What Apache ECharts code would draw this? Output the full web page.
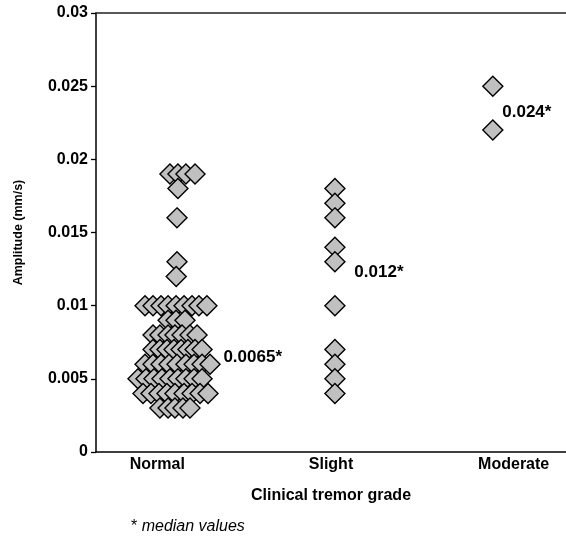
<!DOCTYPE html>
<html>
<head>
<meta charset="utf-8">
<script src="https://cdn.jsdelivr.net/npm/echarts@6/dist/echarts.min.js"></script>
<style>
html,body{margin:0;padding:0;background:#fff;}
#chart{width:566px;height:538px;}
</style>
</head>
<body>
<div id="chart"></div>
<script>
// Categories and x positions (in category units, 0..3; each category spans 1 unit)
var categories = ['Normal', 'Slight', 'Moderate'];

// Normal group: x positions (jitter) and amplitude values
var normalX = [
  0.472, 0.523, 0.574, 0.632,
  0.523,
  0.517,
  0.517,
  0.512,
  0.313, 0.364, 0.415, 0.460, 0.511, 0.562, 0.613, 0.657, 0.708,
  0.460, 0.511, 0.568,
  0.364, 0.408, 0.460, 0.504, 0.549, 0.600, 0.645,
  0.364, 0.408, 0.453, 0.498, 0.543, 0.587, 0.632, 0.677,
  0.313, 0.364, 0.415, 0.466, 0.517, 0.574, 0.626, 0.677, 0.728,
  0.268, 0.319, 0.370, 0.421, 0.472, 0.523, 0.574, 0.626, 0.677,
  0.300, 0.351, 0.402, 0.453, 0.504, 0.562, 0.613, 0.664, 0.715,
  0.408, 0.460, 0.504, 0.555, 0.600
];
var normalY = [
  0.019, 0.019, 0.019, 0.019,
  0.018,
  0.016,
  0.013,
  0.012,
  0.010, 0.010, 0.010, 0.010, 0.010, 0.010, 0.010, 0.010, 0.010,
  0.009, 0.009, 0.009,
  0.008, 0.008, 0.008, 0.008, 0.008, 0.008, 0.008,
  0.007, 0.007, 0.007, 0.007, 0.007, 0.007, 0.007, 0.007,
  0.006, 0.006, 0.006, 0.006, 0.006, 0.006, 0.006, 0.006, 0.006,
  0.005, 0.005, 0.005, 0.005, 0.005, 0.005, 0.005, 0.005, 0.005,
  0.004, 0.004, 0.004, 0.004, 0.004, 0.004, 0.004, 0.004, 0.004,
  0.003, 0.003, 0.003, 0.003, 0.003
];

// Slight group
var slightX = [1.525, 1.525, 1.525, 1.525, 1.525, 1.525, 1.525, 1.525, 1.525, 1.525];
var slightY = [0.018, 0.017, 0.016, 0.014, 0.013, 0.010, 0.007, 0.006, 0.005, 0.004];

// Moderate group
var moderateX = [2.533, 2.533];
var moderateY = [0.025, 0.022];

// Median annotations
var medianText = ['0.0065*', '0.012*', '0.024*'];
var medianX = [0.81, 1.646, 2.59];
var medianY = [0.0065, 0.0123, 0.0232];

// Y axis ticks
var yMin = 0, yMax = 0.03, yStep = 0.005;

function pairs(xs, ys) {
  var out = [];
  for (var i = 0; i < xs.length; i++) out.push([xs[i], ys[i]]);
  return out;
}

var diamondStyle = {
  color: '#c0c0c0',
  borderColor: '#000',
  borderWidth: 1.4,
  opacity: 1
};

var chart = echarts.init(document.getElementById('chart'), null, {renderer: 'canvas'});

var font = 'Liberation Sans, Arial, sans-serif';

var option = {
  animation: false,
  backgroundColor: '#fff',
  textStyle: {fontFamily: font},
  grid: {left: 96, right: 0, top: 13, bottom: 86, containLabel: false},
  title: {
    left: 126,
    top: 514,
    text: '{s|*}{t| median values}',
    textStyle: {
      fontWeight: 'normal',
      rich: {
        s: {fontFamily: font, fontSize: 16, fontWeight: 'normal', color: '#000'},
        t: {fontFamily: font, fontSize: 16, fontWeight: 'normal', fontStyle: 'italic', color: '#000'}
      }
    }
  },
  xAxis: [
    {
      type: 'value', min: 0, max: 3, position: 'bottom',
      axisLine: {show: true, onZero: false, lineStyle: {color: '#000', width: 1.5}},
      axisTick: {show: false}, axisLabel: {show: false}, splitLine: {show: false},
      name: 'Clinical tremor grade', nameLocation: 'middle', nameGap: 36,
      nameTextStyle: {fontFamily: font, fontSize: 16, fontWeight: 'bold', color: '#000'}
    },
    {
      type: 'category', data: categories, position: 'bottom', boundaryGap: true,
      axisLine: {show: false}, axisTick: {show: false}, splitLine: {show: false},
      axisLabel: {
        margin: 5,
        formatter: function (v) {
          if (v === 'Normal') return '{n|' + v + '}';
          if (v === 'Moderate') return '{m|' + v + '}';
          return '{s|' + v + '}';
        },
        rich: {
          n: {fontFamily: font, fontSize: 16, fontWeight: 'bold', color: '#000', padding: [0, 34, 0, 0]},
          s: {fontFamily: font, fontSize: 16, fontWeight: 'bold', color: '#000'},
          m: {fontFamily: font, fontSize: 16, fontWeight: 'bold', color: '#000', padding: [0, 0, 0, 52]}
        }
      }
    },
    {
      type: 'value', min: 0, max: 3, position: 'top',
      axisLine: {show: true, onZero: false, lineStyle: {color: '#222', width: 1.5}},
      axisTick: {show: false}, axisLabel: {show: false}, splitLine: {show: false}
    }
  ],
  yAxis: {
    type: 'value', min: yMin, max: yMax, interval: yStep,
    axisLine: {show: true, onZero: false, lineStyle: {color: '#000', width: 1.5}},
    axisTick: {show: true, length: 5, lineStyle: {color: '#000', width: 1.3}},
    splitLine: {show: false},
    axisLabel: {
      margin: 8, fontFamily: font, fontSize: 16, fontWeight: 'bold', color: '#000',
      verticalAlign: 'middle', padding: [0, 0, 4, 0],
      formatter: function (v) { return String(+v.toFixed(4)); }
    },
    name: 'Amplitude (mm/s)', nameLocation: 'middle', nameGap: 71, nameRotate: 90,
    nameTextStyle: {fontFamily: font, fontSize: 12.5, fontWeight: 'bold', color: '#000'}
  },
  series: [
    {
      name: 'Normal', type: 'scatter', xAxisIndex: 0, symbol: 'diamond', symbolSize: 20,
      itemStyle: diamondStyle, data: pairs(normalX, normalY), z: 3
    },
    {
      name: 'Slight', type: 'scatter', xAxisIndex: 0, symbol: 'diamond', symbolSize: 20,
      itemStyle: diamondStyle, data: pairs(slightX, slightY), z: 3
    },
    {
      name: 'Moderate', type: 'scatter', xAxisIndex: 0, symbol: 'diamond', symbolSize: 20,
      itemStyle: diamondStyle, data: pairs(moderateX, moderateY), z: 3
    },
    {
      name: 'Median', type: 'scatter', xAxisIndex: 0, symbolSize: 1, z: 5,
      itemStyle: {opacity: 0},
      data: medianText.map(function (t, i) { return {value: [medianX[i], medianY[i]], name: t}; }),
      label: {
        show: true, position: 'right', distance: 0, opacity: 1,
        formatter: function (p) { return p.name; },
        fontFamily: font, fontSize: 17, fontWeight: 'bold', color: '#000',
        textBorderWidth: 0
      },
      emphasis: {disabled: true}
    }
  ]
};

chart.setOption(option);
</script>
</body>
</html>
